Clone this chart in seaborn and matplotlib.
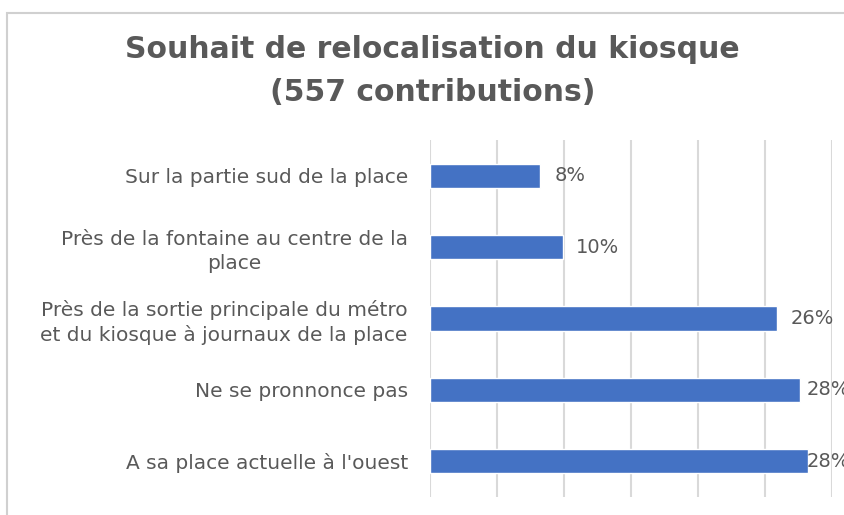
import matplotlib.pyplot as plt
import matplotlib.patches as mpatches
import seaborn as sns

# Data
categories = ['Sur la partie sud de la place',
              'Près de la fontaine au centre de la\nplace',
              'Près de la sortie principale du métro\net du kiosque à journaux de la place',
              'Ne se pronnonce pas',
              "A sa place actuelle à l'ouest"]
values = [8.2, 9.9, 25.9, 27.6, 28.2]
labels = ['8%', '10%', '26%', '28%', '28%']
label_offsets = [15, 13, 14, 7, -1]  # px right of bar end, as in the source

sns.set_theme(style='white')
plt.rcParams['font.family'] = ['DejaVu Sans']

gray = '#595959'
fig = plt.figure(figsize=(8.45, 5.15), dpi=100)
ax = fig.add_axes([0.5089, 0.035, 0.4754, 0.6932])

sns.barplot(x=values, y=categories, color='#4472C4', width=0.34,
            saturation=1, orient='h', ax=ax)

ax.set_xlim(0, 30)
ax.set_xticks(range(0, 31, 5))
ax.set_xticklabels([])
ax.xaxis.grid(True, color='#d9d9d9', linewidth=1.5)
ax.set_axisbelow(True)
ax.tick_params(axis='y', length=0, pad=16, labelsize=14.5, labelcolor=gray)
ax.tick_params(axis='x', length=0)
for lab in ax.get_yticklabels():
    lab.set_multialignment('center')
    lab.set_linespacing(1.3)
for s in ax.spines.values():
    s.set_visible(False)
ax.set_xlabel('')
ax.set_ylabel('')

for i, (v, t) in enumerate(zip(values, labels)):
    ax.annotate(t, (v, i), xytext=(label_offsets[i] * 0.72, 0),
                textcoords='offset points', ha='left', va='center',
                fontsize=14, color=gray, annotation_clip=False)

fig.text(0.512, 0.862, 'Souhait de relocalisation du kiosque\n(557 contributions)',
         ha='center', va='center', fontsize=21.5, fontweight='bold',
         color=gray, linespacing=1.6)

# light frame around the chart area
fig.patches.append(mpatches.Rectangle((7.5 / 845, -0.1), 1.2, 1 - 13 / 515 + 0.1,
                                      transform=fig.transFigure, fill=False,
                                      edgecolor='#d0d0d0', linewidth=1.5))

fig.savefig('out.png', dpi=100)
